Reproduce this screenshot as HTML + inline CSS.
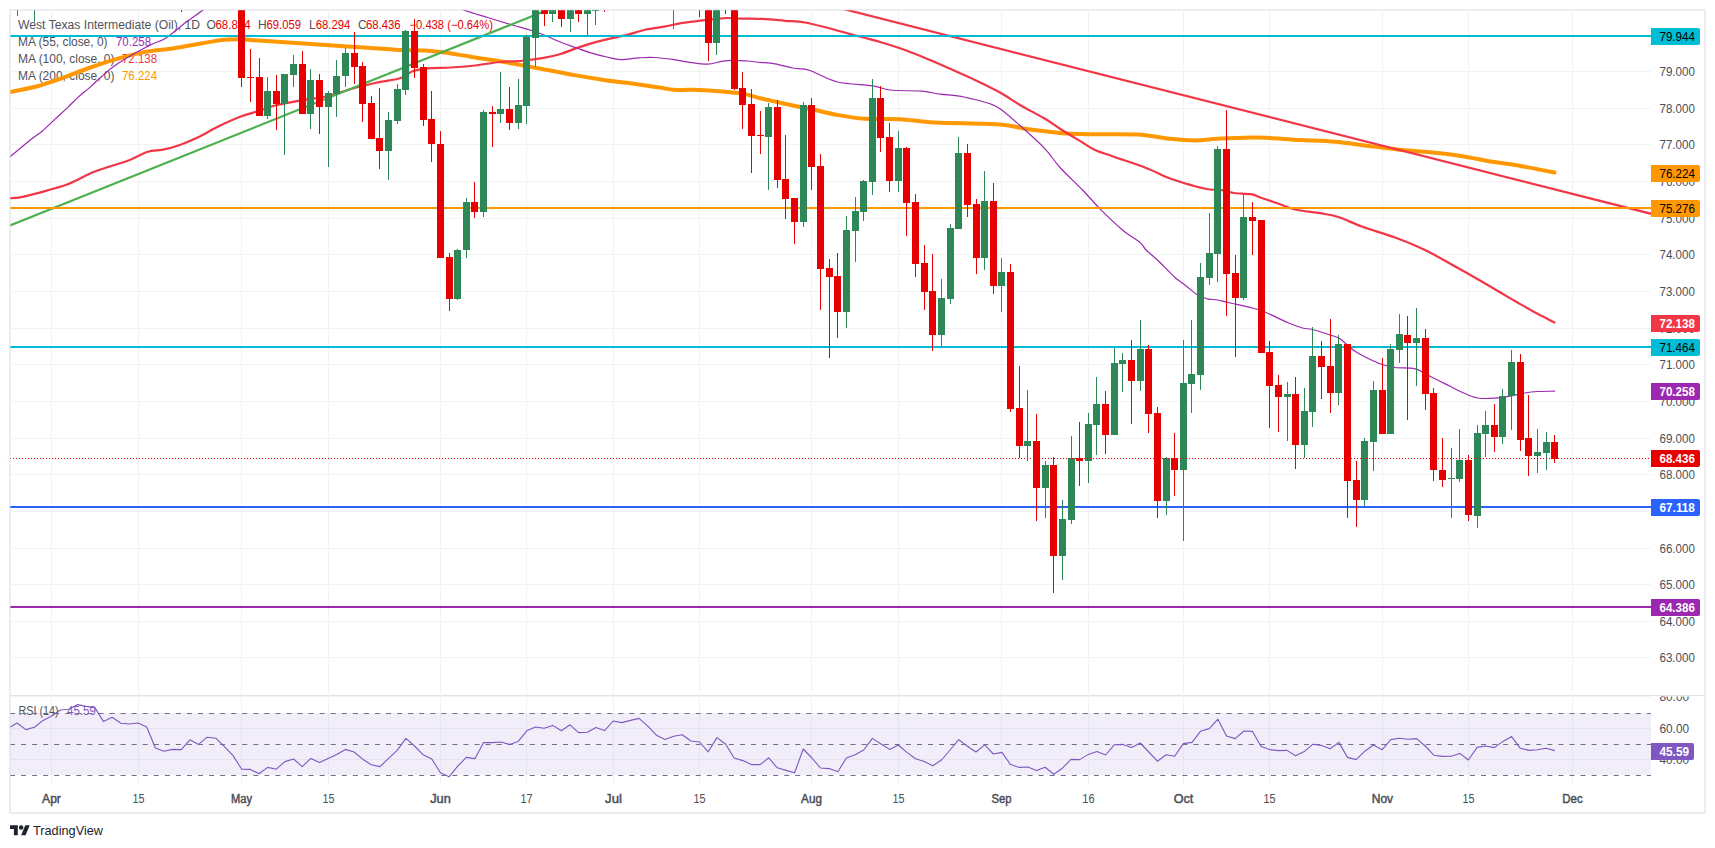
<!DOCTYPE html><html><head><meta charset="utf-8"><title>West Texas Intermediate (Oil) 1D</title>
<style>html,body{margin:0;padding:0;background:#fff}svg{display:block}text{font-family:"Liberation Sans", Arial, sans-serif;font-size:12px}</style></head><body>
<svg width="1715" height="848" viewBox="0 0 1715 848">
<defs><clipPath id="cm"><rect x="10.4" y="10.2" width="1640.6" height="685.3"/></clipPath><clipPath id="cr"><rect x="10.4" y="695.5" width="1640.6" height="89.5"/></clipPath><clipPath id="ca"><rect x="1651" y="11" width="53" height="684.5"/></clipPath><clipPath id="cb"><rect x="1651" y="696.5" width="53" height="89.5"/></clipPath></defs>
<rect width="1715" height="848" fill="#fff"/>
<line x1="10" y1="695.5" x2="1705" y2="695.5" stroke="#dfe2ea" stroke-width="1.2"/>
<rect x="10" y="10" width="1695" height="803" fill="none" stroke="#ecedf3" stroke-width="2"/>
<g stroke="#f1f3f3" stroke-width="1" shape-rendering="crispEdges">
<line x1="51.5" y1="11" x2="51.5" y2="785"/>
<line x1="138.5" y1="11" x2="138.5" y2="785"/>
<line x1="241.5" y1="11" x2="241.5" y2="785"/>
<line x1="328.5" y1="11" x2="328.5" y2="785"/>
<line x1="440.5" y1="11" x2="440.5" y2="785"/>
<line x1="526.5" y1="11" x2="526.5" y2="785"/>
<line x1="613.5" y1="11" x2="613.5" y2="785"/>
<line x1="699.5" y1="11" x2="699.5" y2="785"/>
<line x1="811.5" y1="11" x2="811.5" y2="785"/>
<line x1="898.5" y1="11" x2="898.5" y2="785"/>
<line x1="1001.5" y1="11" x2="1001.5" y2="785"/>
<line x1="1088.5" y1="11" x2="1088.5" y2="785"/>
<line x1="1183.5" y1="11" x2="1183.5" y2="785"/>
<line x1="1269.5" y1="11" x2="1269.5" y2="785"/>
<line x1="1382.5" y1="11" x2="1382.5" y2="785"/>
<line x1="1468.5" y1="11" x2="1468.5" y2="785"/>
<line x1="1572.5" y1="11" x2="1572.5" y2="785"/>
<line x1="11" y1="657.5" x2="1651" y2="657.5"/>
<line x1="11" y1="621.5" x2="1651" y2="621.5"/>
<line x1="11" y1="584.5" x2="1651" y2="584.5"/>
<line x1="11" y1="548.5" x2="1651" y2="548.5"/>
<line x1="11" y1="511.5" x2="1651" y2="511.5"/>
<line x1="11" y1="474.5" x2="1651" y2="474.5"/>
<line x1="11" y1="438.5" x2="1651" y2="438.5"/>
<line x1="11" y1="401.5" x2="1651" y2="401.5"/>
<line x1="11" y1="364.5" x2="1651" y2="364.5"/>
<line x1="11" y1="328.5" x2="1651" y2="328.5"/>
<line x1="11" y1="291.5" x2="1651" y2="291.5"/>
<line x1="11" y1="254.5" x2="1651" y2="254.5"/>
<line x1="11" y1="218.5" x2="1651" y2="218.5"/>
<line x1="11" y1="181.5" x2="1651" y2="181.5"/>
<line x1="11" y1="144.5" x2="1651" y2="144.5"/>
<line x1="11" y1="108.5" x2="1651" y2="108.5"/>
<line x1="11" y1="71.5" x2="1651" y2="71.5"/>
<line x1="11" y1="35.5" x2="1651" y2="35.5"/>
<line x1="11" y1="696.5" x2="1651" y2="696.5"/>
<line x1="11" y1="728.5" x2="1651" y2="728.5"/>
<line x1="11" y1="759.5" x2="1651" y2="759.5"/>
</g>
<rect x="10.5" y="713" width="1640.5" height="62" fill="#7e57c2" fill-opacity="0.1"/>
<g fill="#50535c">
<text x="18" y="29" textLength="182" lengthAdjust="spacingAndGlyphs">West Texas Intermediate (Oil), 1D</text>
<text x="206.5" y="29">O</text><text x="215.5" y="29" fill="#e60000" textLength="35" lengthAdjust="spacingAndGlyphs">68.874</text>
<text x="258" y="29">H</text><text x="266.5" y="29" fill="#e60000" textLength="34.5" lengthAdjust="spacingAndGlyphs">69.059</text>
<text x="309" y="29">L</text><text x="315.7" y="29" fill="#e60000" textLength="34.6" lengthAdjust="spacingAndGlyphs">68.294</text>
<text x="358" y="29">C</text><text x="366" y="29" fill="#e60000" textLength="34.6" lengthAdjust="spacingAndGlyphs">68.436</text>
<text x="409.5" y="29" fill="#e60000" textLength="83.5" lengthAdjust="spacingAndGlyphs">−0.438 (−0.64%)</text>
<text x="18" y="46" textLength="89.5" lengthAdjust="spacingAndGlyphs">MA (55, close, 0)</text><text x="116" y="46" fill="#9c27b0" textLength="35" lengthAdjust="spacingAndGlyphs">70.258</text>
<text x="18" y="63" textLength="96.5" lengthAdjust="spacingAndGlyphs">MA (100, close, 0)</text><text x="122" y="63" fill="#f23645" textLength="35" lengthAdjust="spacingAndGlyphs">72.138</text>
<text x="18" y="80" textLength="96.5" lengthAdjust="spacingAndGlyphs">MA (200, close, 0)</text><text x="122" y="80" fill="#ff9800" textLength="35" lengthAdjust="spacingAndGlyphs">76.224</text>
<text x="18.5" y="714.8" textLength="40" lengthAdjust="spacingAndGlyphs">RSI (14)</text><text x="67" y="714.8" fill="#7e57c2" textLength="29" lengthAdjust="spacingAndGlyphs">45.59</text>
</g>
<g clip-path="url(#cm)">
<path fill="none" stroke="#ff9800" stroke-width="4" stroke-linejoin="round" stroke-linecap="round" d="M10.0 92.0C14.4 91.1 29.0 88.4 37.2 86.2C45.4 84.0 52.7 81.4 61.0 78.5C69.3 75.6 80.0 71.1 89.0 68.0C98.0 64.9 108.0 61.5 117.0 58.9C126.0 56.3 136.0 53.6 145.0 51.9C154.0 50.2 164.0 49.7 173.0 48.4C182.0 47.1 193.2 44.8 201.0 43.5C208.8 42.2 216.2 40.7 222.0 40.0C227.8 39.3 232.7 39.3 237.3 39.3C241.9 39.3 242.6 39.6 250.8 40.1C259.0 40.6 276.4 41.8 288.4 42.6C300.4 43.4 314.0 44.3 326.0 45.1C338.0 45.9 351.8 46.8 363.6 47.6C375.4 48.4 390.2 49.5 400.0 50.0C409.8 50.5 417.0 50.0 425.0 50.5C433.0 51.0 442.0 52.1 450.0 53.2C458.0 54.4 467.0 56.2 475.0 57.5C483.0 58.8 492.8 60.1 500.0 61.2C507.2 62.4 513.4 63.7 520.0 64.9C526.6 66.1 532.0 67.0 541.0 68.7C550.0 70.4 565.9 73.6 576.0 75.4C586.1 77.2 595.0 78.6 604.0 79.9C613.0 81.2 623.0 82.2 632.0 83.4C641.0 84.6 653.3 86.6 660.0 87.6C666.7 88.6 667.8 89.3 674.0 89.7C680.2 90.1 692.3 89.7 699.0 89.9C705.7 90.1 710.6 90.6 716.0 91.0C721.4 91.4 728.2 92.0 732.7 92.5C737.2 93.0 739.2 92.9 744.0 93.9C748.8 94.9 755.9 97.2 762.5 98.8C769.1 100.3 778.2 102.3 785.0 103.8C791.8 105.2 800.2 107.0 805.0 108.0C809.8 109.0 809.8 108.9 815.0 110.0C820.2 111.1 829.5 113.6 837.5 115.0C845.5 116.4 855.0 118.1 865.0 118.8C875.0 119.4 888.8 118.7 900.0 119.2C911.2 119.8 919.0 121.7 935.0 122.5C951.0 123.3 985.6 123.5 1000.0 124.5C1014.4 125.5 1015.4 127.4 1025.0 128.8C1034.6 130.1 1050.0 132.1 1060.0 133.0C1070.0 133.9 1075.1 134.0 1087.5 134.2C1099.9 134.5 1124.3 133.8 1137.5 134.5C1150.7 135.2 1160.8 137.8 1170.0 138.8C1179.2 139.7 1187.4 140.5 1195.0 140.5C1202.6 140.5 1208.3 139.2 1217.5 138.8C1226.7 138.3 1244.1 137.6 1252.5 137.5C1260.9 137.4 1262.4 137.6 1270.0 138.0C1277.6 138.4 1289.6 139.4 1300.0 140.0C1310.4 140.6 1324.6 140.9 1335.0 141.8C1345.4 142.6 1355.4 144.3 1365.0 145.5C1374.6 146.7 1383.0 148.0 1395.0 149.2C1407.0 150.5 1429.2 152.1 1440.0 153.2C1450.8 154.4 1454.1 154.9 1462.5 156.2C1470.9 157.6 1484.1 160.3 1492.5 161.8C1500.9 163.2 1507.8 163.8 1515.0 165.0C1522.2 166.2 1531.2 168.1 1537.5 169.2C1543.8 170.4 1551.8 172.0 1554.5 172.5"/>
<path fill="none" stroke="#f23645" stroke-width="2.2" stroke-linejoin="round" stroke-linecap="round" d="M10.0 198.1C11.6 198.0 15.6 198.1 20.0 197.3C24.4 196.5 30.0 195.2 37.6 193.1C45.2 191.0 58.9 187.6 67.7 184.3C76.5 181.0 85.6 175.3 92.8 172.3C100.0 169.3 106.8 167.5 112.8 165.5C118.8 163.5 124.8 161.9 130.4 159.7C136.0 157.5 142.7 153.3 147.9 151.7C153.1 150.1 157.8 150.8 163.0 149.7C168.2 148.6 174.9 146.7 180.5 144.7C186.1 142.7 192.1 140.1 198.1 137.2C204.1 134.3 211.4 129.9 218.2 126.6C225.0 123.3 234.3 119.1 240.7 116.6C247.1 114.1 252.7 112.9 258.3 111.1C263.9 109.3 269.0 107.0 275.8 105.3C282.6 103.6 292.9 101.7 300.9 100.3C308.9 98.9 318.0 98.3 326.0 96.5C334.0 94.7 343.1 91.2 351.1 89.0C359.1 86.8 368.3 84.4 376.1 82.7C383.9 81.0 394.2 80.1 400.0 78.3C405.8 76.5 408.1 72.9 412.5 71.3C416.9 69.7 421.5 68.9 427.5 68.3C433.5 67.7 442.4 67.9 450.0 67.5C457.6 67.1 467.0 66.4 475.0 65.5C483.0 64.6 492.8 62.7 500.0 62.0C507.2 61.3 513.2 61.6 520.0 61.0C526.8 60.4 535.9 59.3 542.4 58.2C548.9 57.1 555.2 55.6 560.6 54.0C566.0 52.4 570.4 50.3 576.0 48.4C581.6 46.5 588.9 43.9 595.6 42.1C602.3 40.3 612.7 38.1 618.0 36.9C623.3 35.7 624.5 35.6 629.0 34.4C633.5 33.2 640.4 30.7 646.0 29.5C651.6 28.3 658.4 27.7 664.0 26.7C669.6 25.7 675.2 24.2 681.0 23.2C686.8 22.2 694.9 21.4 700.5 20.7C706.1 20.0 711.8 19.4 716.0 19.0C720.2 18.6 723.0 18.1 727.0 18.0C731.0 17.9 735.3 18.5 741.0 18.6C746.7 18.7 755.5 18.6 762.5 18.9C769.5 19.2 778.2 20.2 785.0 20.8C791.8 21.3 798.1 21.3 805.0 22.5C811.9 23.7 820.8 26.2 828.0 28.0C835.2 29.8 841.7 31.8 850.0 34.0C858.3 36.2 871.2 39.4 880.0 42.0C888.8 44.6 897.0 47.1 905.0 50.0C913.0 52.9 922.8 57.0 930.0 60.0C937.2 63.0 942.8 65.5 950.0 68.8C957.2 72.0 967.0 76.2 975.0 80.0C983.0 83.8 992.8 88.5 1000.0 92.5C1007.2 96.5 1012.8 100.8 1020.0 105.0C1027.2 109.2 1038.6 115.0 1045.0 118.8C1051.4 122.5 1054.0 125.0 1060.0 128.8C1066.0 132.6 1076.9 139.1 1082.5 142.5C1088.1 145.9 1090.2 147.8 1095.0 150.0C1099.8 152.2 1104.5 153.4 1112.5 156.2C1120.5 159.1 1136.2 164.1 1145.0 167.5C1153.8 170.9 1161.9 175.2 1167.5 177.5C1173.1 179.8 1175.6 180.3 1180.0 181.8C1184.4 183.2 1190.2 185.0 1195.0 186.2C1199.8 187.5 1205.8 188.9 1210.0 189.5C1214.2 190.1 1217.2 189.4 1221.0 190.0C1224.8 190.6 1229.0 192.3 1233.8 193.0C1238.5 193.7 1246.4 193.4 1251.0 194.2C1255.6 195.1 1257.9 196.7 1262.5 198.2C1267.1 199.8 1274.8 202.4 1280.0 204.2C1285.2 206.1 1288.6 208.1 1295.0 209.5C1301.4 210.9 1313.2 212.1 1320.0 213.2C1326.8 214.4 1330.7 214.6 1337.5 216.8C1344.3 218.9 1353.3 223.4 1362.5 226.8C1371.7 230.1 1385.0 233.8 1395.0 237.5C1405.0 241.2 1415.8 245.6 1425.0 250.0C1434.2 254.4 1443.7 260.1 1452.5 265.0C1461.3 269.9 1472.0 275.9 1480.0 280.5C1488.0 285.1 1496.5 290.2 1502.5 293.8C1508.5 297.3 1511.9 299.3 1517.5 302.5C1523.1 305.7 1531.6 310.6 1537.5 313.8C1543.4 316.9 1551.8 321.1 1554.5 322.5"/>
<path fill="none" stroke="#9c27b0" stroke-width="1.2" stroke-linejoin="round" stroke-linecap="round" d="M10.0 156.8C13.2 154.1 24.9 144.3 30.0 140.2C35.1 136.1 37.9 134.7 42.1 131.2C46.3 127.7 51.9 122.0 56.1 118.1C60.3 114.2 64.6 110.5 68.1 107.1C71.6 103.7 74.7 100.3 78.2 97.1C81.7 93.9 86.4 90.5 90.2 87.1C94.0 83.7 98.4 79.4 102.2 76.0C106.0 72.6 109.6 69.3 114.2 66.0C118.8 62.7 125.0 58.9 131.0 55.4C137.0 51.9 146.4 47.0 152.0 44.2C157.6 41.4 160.6 41.4 166.0 37.9C171.4 34.4 179.7 27.1 185.6 22.6C191.5 18.1 198.3 13.5 203.0 9.9C207.7 6.3 213.1 1.6 215.0 0.0"/>
<path fill="none" stroke="#9c27b0" stroke-width="1.2" stroke-linejoin="round" stroke-linecap="round" d="M455.0 5.0C456.4 5.8 458.6 8.0 463.8 10.0C468.9 12.0 479.7 15.1 487.5 17.5C495.3 19.9 505.7 23.0 512.5 25.0C519.3 27.0 525.4 28.6 530.0 30.0C534.6 31.4 535.9 31.7 541.0 33.7C546.1 35.7 556.4 40.6 562.0 42.8C567.6 45.0 571.5 46.1 576.0 47.7C580.5 49.3 585.1 51.1 590.0 52.6C594.9 54.1 601.9 55.9 606.8 57.0C611.7 58.1 615.6 59.5 620.8 59.6C626.0 59.7 633.6 58.1 639.0 57.8C644.4 57.5 648.7 57.2 654.3 57.5C659.9 57.8 668.6 58.9 674.0 59.6C679.4 60.3 682.6 61.4 688.0 62.1C693.4 62.8 702.1 64.3 707.5 64.2C712.9 64.1 717.5 62.0 721.5 61.4C725.5 60.8 728.7 60.5 732.7 60.4C736.7 60.3 742.3 60.7 746.7 61.0C751.1 61.3 755.5 62.0 760.0 62.4C764.5 62.8 769.8 62.9 775.0 63.8C780.2 64.6 788.5 67.2 792.5 68.0C796.5 68.8 797.2 68.3 800.0 68.8C802.8 69.2 804.0 68.4 810.0 70.5C816.0 72.6 827.5 79.6 837.5 82.0C847.5 84.4 864.1 84.5 872.5 85.8C880.9 87.0 882.0 89.1 890.0 90.0C898.0 90.9 914.5 90.6 922.5 91.2C930.5 91.9 934.4 93.5 940.0 94.2C945.6 95.0 951.9 94.9 957.5 95.8C963.1 96.6 969.8 98.2 975.0 99.5C980.2 100.8 986.0 102.3 990.0 103.8C994.0 105.2 995.2 105.3 1000.0 108.8C1004.8 112.2 1012.8 119.1 1020.0 125.5C1027.2 131.9 1038.6 142.0 1045.0 148.8C1051.4 155.5 1054.0 160.9 1060.0 167.5C1066.0 174.1 1076.1 183.4 1082.5 190.0C1088.9 196.6 1093.6 202.3 1100.0 208.8C1106.4 215.2 1116.1 224.6 1122.5 230.0C1128.9 235.4 1136.2 239.3 1140.0 242.5C1143.8 245.7 1143.0 246.8 1146.2 250.0C1149.5 253.2 1155.4 258.1 1160.0 262.5C1164.6 266.9 1171.0 273.9 1175.0 277.5C1179.0 281.1 1181.4 282.2 1185.0 285.0C1188.6 287.8 1193.9 292.8 1197.5 295.0C1201.1 297.2 1204.3 297.9 1207.5 298.8C1210.7 299.6 1214.2 299.4 1217.5 300.0C1220.8 300.6 1222.4 301.2 1228.0 302.5C1233.6 303.8 1246.6 306.5 1252.5 308.0C1258.4 309.5 1259.4 309.7 1265.0 312.0C1270.6 314.3 1281.5 319.9 1287.5 322.5C1293.5 325.1 1298.5 326.9 1302.5 328.0C1306.5 329.1 1308.1 328.4 1312.5 329.5C1316.9 330.6 1325.6 333.5 1330.0 335.0C1334.4 336.5 1336.0 336.1 1340.0 338.8C1344.0 341.4 1348.6 347.2 1355.0 351.2C1361.4 355.2 1373.6 361.1 1380.0 363.8C1386.4 366.4 1389.4 366.7 1395.0 367.5C1400.6 368.3 1409.4 367.4 1415.0 368.8C1420.6 370.1 1424.4 373.4 1430.0 376.2C1435.6 379.1 1444.8 383.6 1450.0 386.2C1455.2 388.9 1458.1 390.6 1462.5 392.5C1466.9 394.4 1472.3 397.1 1477.5 398.0C1482.7 398.9 1489.8 398.5 1495.0 398.2C1500.2 398.0 1505.2 397.1 1510.0 396.2C1514.8 395.4 1520.6 393.8 1525.0 393.0C1529.4 392.2 1532.8 391.8 1537.5 391.5C1542.2 391.2 1551.8 391.3 1554.5 391.2"/>
<line x1="10" y1="225.4" x2="549" y2="9.4" stroke="#4caf50" stroke-width="2.2"/>
<line x1="840" y1="8.16" x2="1660" y2="216.03" stroke="#f23645" stroke-width="2.2"/>
<line x1="10" y1="36" x2="1651" y2="36" stroke="#00bcd4" stroke-width="2"/>
<line x1="10" y1="208" x2="1651" y2="208" stroke="#ff9800" stroke-width="2"/>
<line x1="10" y1="347" x2="1651" y2="347" stroke="#00bcd4" stroke-width="2"/>
<line x1="10" y1="507" x2="1651" y2="507" stroke="#2962ff" stroke-width="2"/>
<line x1="10" y1="607" x2="1651" y2="607" stroke="#9c27b0" stroke-width="2"/>
<rect x="17" y="-50" width="1" height="66" fill="#2d8757"/>
<rect x="14" y="-50" width="7" height="1" fill="#2d8757"/>
<rect x="34" y="-50" width="1" height="72" fill="#2d8757"/>
<rect x="31" y="-50" width="7" height="1" fill="#2d8757"/>
<rect x="181" y="-50" width="1" height="62" fill="#e60000"/>
<rect x="178" y="-50" width="7" height="1" fill="#e60000"/>
<rect x="241" y="-50" width="1" height="137" fill="#e60000"/>
<rect x="238" y="-50" width="7" height="128" fill="#e60000"/>
<rect x="250" y="49" width="1" height="53" fill="#e60000"/>
<rect x="247" y="77" width="7" height="1" fill="#e60000"/>
<rect x="259" y="58" width="1" height="58" fill="#e60000"/>
<rect x="256" y="77" width="7" height="39" fill="#e60000"/>
<rect x="267" y="77" width="1" height="42" fill="#2d8757"/>
<rect x="264" y="91" width="7" height="25" fill="#2d8757"/>
<rect x="276" y="75" width="1" height="55" fill="#e60000"/>
<rect x="273" y="91" width="7" height="13" fill="#e60000"/>
<rect x="284" y="74" width="1" height="81" fill="#2d8757"/>
<rect x="281" y="74" width="7" height="30" fill="#2d8757"/>
<rect x="293" y="55" width="1" height="32" fill="#2d8757"/>
<rect x="290" y="64" width="7" height="11" fill="#2d8757"/>
<rect x="302" y="51" width="1" height="63" fill="#e60000"/>
<rect x="299" y="64" width="7" height="50" fill="#e60000"/>
<rect x="310" y="69" width="1" height="60" fill="#2d8757"/>
<rect x="307" y="80" width="7" height="34" fill="#2d8757"/>
<rect x="319" y="74" width="1" height="60" fill="#e60000"/>
<rect x="316" y="80" width="7" height="27" fill="#e60000"/>
<rect x="328" y="91" width="1" height="76" fill="#2d8757"/>
<rect x="325" y="93" width="7" height="14" fill="#2d8757"/>
<rect x="336" y="60" width="1" height="57" fill="#2d8757"/>
<rect x="333" y="76" width="7" height="18" fill="#2d8757"/>
<rect x="345" y="48" width="1" height="39" fill="#2d8757"/>
<rect x="342" y="53" width="7" height="23" fill="#2d8757"/>
<rect x="354" y="32" width="1" height="52" fill="#e60000"/>
<rect x="351" y="53" width="7" height="14" fill="#e60000"/>
<rect x="362" y="62" width="1" height="60" fill="#e60000"/>
<rect x="359" y="66" width="7" height="38" fill="#e60000"/>
<rect x="371" y="96" width="1" height="43" fill="#e60000"/>
<rect x="368" y="103" width="7" height="36" fill="#e60000"/>
<rect x="379" y="88" width="1" height="81" fill="#e60000"/>
<rect x="376" y="138" width="7" height="13" fill="#e60000"/>
<rect x="388" y="112" width="1" height="68" fill="#2d8757"/>
<rect x="385" y="120" width="7" height="31" fill="#2d8757"/>
<rect x="397" y="84" width="1" height="40" fill="#2d8757"/>
<rect x="394" y="89" width="7" height="32" fill="#2d8757"/>
<rect x="405" y="30" width="1" height="65" fill="#2d8757"/>
<rect x="402" y="31" width="7" height="59" fill="#2d8757"/>
<rect x="414" y="19" width="1" height="59" fill="#e60000"/>
<rect x="411" y="31" width="7" height="37" fill="#e60000"/>
<rect x="423" y="64" width="1" height="62" fill="#e60000"/>
<rect x="420" y="67" width="7" height="53" fill="#e60000"/>
<rect x="431" y="91" width="1" height="71" fill="#e60000"/>
<rect x="428" y="119" width="7" height="25" fill="#e60000"/>
<rect x="440" y="131" width="1" height="127" fill="#e60000"/>
<rect x="437" y="144" width="7" height="114" fill="#e60000"/>
<rect x="449" y="253" width="1" height="58" fill="#e60000"/>
<rect x="446" y="257" width="7" height="42" fill="#e60000"/>
<rect x="457" y="249" width="1" height="51" fill="#2d8757"/>
<rect x="454" y="250" width="7" height="49" fill="#2d8757"/>
<rect x="466" y="198" width="1" height="60" fill="#2d8757"/>
<rect x="463" y="202" width="7" height="48" fill="#2d8757"/>
<rect x="474" y="182" width="1" height="36" fill="#e60000"/>
<rect x="471" y="202" width="7" height="10" fill="#e60000"/>
<rect x="483" y="110" width="1" height="107" fill="#2d8757"/>
<rect x="480" y="112" width="7" height="100" fill="#2d8757"/>
<rect x="492" y="106" width="1" height="41" fill="#e60000"/>
<rect x="489" y="112" width="7" height="2" fill="#e60000"/>
<rect x="500" y="72" width="1" height="51" fill="#2d8757"/>
<rect x="497" y="109" width="7" height="5" fill="#2d8757"/>
<rect x="509" y="87" width="1" height="43" fill="#e60000"/>
<rect x="506" y="109" width="7" height="14" fill="#e60000"/>
<rect x="518" y="79" width="1" height="50" fill="#2d8757"/>
<rect x="515" y="105" width="7" height="18" fill="#2d8757"/>
<rect x="526" y="35" width="1" height="89" fill="#2d8757"/>
<rect x="523" y="37" width="7" height="69" fill="#2d8757"/>
<rect x="535" y="-50" width="1" height="117" fill="#2d8757"/>
<rect x="532" y="-50" width="7" height="88" fill="#2d8757"/>
<rect x="544" y="-50" width="1" height="76" fill="#e60000"/>
<rect x="541" y="-50" width="7" height="64" fill="#e60000"/>
<rect x="552" y="-50" width="1" height="72" fill="#2d8757"/>
<rect x="549" y="-50" width="7" height="64" fill="#2d8757"/>
<rect x="561" y="-50" width="1" height="77" fill="#e60000"/>
<rect x="558" y="-50" width="7" height="69" fill="#e60000"/>
<rect x="570" y="-50" width="1" height="82" fill="#2d8757"/>
<rect x="567" y="-50" width="7" height="69" fill="#2d8757"/>
<rect x="578" y="-50" width="1" height="72" fill="#e60000"/>
<rect x="575" y="-50" width="7" height="64" fill="#e60000"/>
<rect x="587" y="-50" width="1" height="86" fill="#2d8757"/>
<rect x="584" y="-50" width="7" height="64" fill="#2d8757"/>
<rect x="595" y="-50" width="1" height="75" fill="#2d8757"/>
<rect x="592" y="-50" width="7" height="61" fill="#2d8757"/>
<rect x="604" y="-50" width="1" height="62" fill="#e60000"/>
<rect x="601" y="-50" width="7" height="1" fill="#e60000"/>
<rect x="673" y="-50" width="1" height="79" fill="#2d8757"/>
<rect x="670" y="-50" width="7" height="1" fill="#2d8757"/>
<rect x="699" y="-50" width="1" height="67" fill="#e60000"/>
<rect x="696" y="-50" width="7" height="1" fill="#e60000"/>
<rect x="708" y="-50" width="1" height="111" fill="#e60000"/>
<rect x="705" y="-50" width="7" height="93" fill="#e60000"/>
<rect x="716" y="-50" width="1" height="105" fill="#2d8757"/>
<rect x="713" y="-50" width="7" height="93" fill="#2d8757"/>
<rect x="725" y="-50" width="1" height="64" fill="#e60000"/>
<rect x="722" y="-50" width="7" height="1" fill="#e60000"/>
<rect x="734" y="-50" width="1" height="140" fill="#e60000"/>
<rect x="731" y="-50" width="7" height="139" fill="#e60000"/>
<rect x="742" y="72" width="1" height="57" fill="#e60000"/>
<rect x="739" y="88" width="7" height="17" fill="#e60000"/>
<rect x="751" y="89" width="1" height="84" fill="#e60000"/>
<rect x="748" y="104" width="7" height="32" fill="#e60000"/>
<rect x="760" y="111" width="1" height="43" fill="#e60000"/>
<rect x="757" y="135" width="7" height="1" fill="#e60000"/>
<rect x="768" y="103" width="1" height="87" fill="#2d8757"/>
<rect x="765" y="107" width="7" height="30" fill="#2d8757"/>
<rect x="777" y="100" width="1" height="88" fill="#e60000"/>
<rect x="774" y="107" width="7" height="73" fill="#e60000"/>
<rect x="785" y="135" width="1" height="84" fill="#e60000"/>
<rect x="782" y="179" width="7" height="20" fill="#e60000"/>
<rect x="794" y="198" width="1" height="46" fill="#e60000"/>
<rect x="791" y="198" width="7" height="24" fill="#e60000"/>
<rect x="803" y="102" width="1" height="125" fill="#2d8757"/>
<rect x="800" y="105" width="7" height="117" fill="#2d8757"/>
<rect x="811" y="98" width="1" height="92" fill="#e60000"/>
<rect x="808" y="105" width="7" height="62" fill="#e60000"/>
<rect x="820" y="154" width="1" height="156" fill="#e60000"/>
<rect x="817" y="166" width="7" height="103" fill="#e60000"/>
<rect x="829" y="259" width="1" height="99" fill="#e60000"/>
<rect x="826" y="268" width="7" height="9" fill="#e60000"/>
<rect x="837" y="253" width="1" height="85" fill="#e60000"/>
<rect x="834" y="276" width="7" height="36" fill="#e60000"/>
<rect x="846" y="216" width="1" height="112" fill="#2d8757"/>
<rect x="843" y="230" width="7" height="82" fill="#2d8757"/>
<rect x="855" y="197" width="1" height="65" fill="#2d8757"/>
<rect x="852" y="211" width="7" height="20" fill="#2d8757"/>
<rect x="863" y="180" width="1" height="41" fill="#2d8757"/>
<rect x="860" y="181" width="7" height="31" fill="#2d8757"/>
<rect x="872" y="79" width="1" height="116" fill="#2d8757"/>
<rect x="869" y="98" width="7" height="84" fill="#2d8757"/>
<rect x="880" y="86" width="1" height="66" fill="#e60000"/>
<rect x="877" y="98" width="7" height="40" fill="#e60000"/>
<rect x="889" y="123" width="1" height="69" fill="#e60000"/>
<rect x="886" y="137" width="7" height="44" fill="#e60000"/>
<rect x="898" y="131" width="1" height="61" fill="#2d8757"/>
<rect x="895" y="148" width="7" height="33" fill="#2d8757"/>
<rect x="906" y="147" width="1" height="89" fill="#e60000"/>
<rect x="903" y="148" width="7" height="55" fill="#e60000"/>
<rect x="915" y="194" width="1" height="83" fill="#e60000"/>
<rect x="912" y="202" width="7" height="62" fill="#e60000"/>
<rect x="924" y="245" width="1" height="65" fill="#e60000"/>
<rect x="921" y="263" width="7" height="29" fill="#e60000"/>
<rect x="932" y="254" width="1" height="97" fill="#e60000"/>
<rect x="929" y="291" width="7" height="44" fill="#e60000"/>
<rect x="941" y="279" width="1" height="68" fill="#2d8757"/>
<rect x="938" y="298" width="7" height="37" fill="#2d8757"/>
<rect x="950" y="224" width="1" height="80" fill="#2d8757"/>
<rect x="947" y="228" width="7" height="71" fill="#2d8757"/>
<rect x="958" y="137" width="1" height="92" fill="#2d8757"/>
<rect x="955" y="153" width="7" height="76" fill="#2d8757"/>
<rect x="967" y="144" width="1" height="73" fill="#e60000"/>
<rect x="964" y="153" width="7" height="52" fill="#e60000"/>
<rect x="976" y="199" width="1" height="75" fill="#e60000"/>
<rect x="973" y="204" width="7" height="54" fill="#e60000"/>
<rect x="984" y="171" width="1" height="99" fill="#2d8757"/>
<rect x="981" y="201" width="7" height="57" fill="#2d8757"/>
<rect x="993" y="183" width="1" height="111" fill="#e60000"/>
<rect x="990" y="201" width="7" height="85" fill="#e60000"/>
<rect x="1001" y="258" width="1" height="54" fill="#2d8757"/>
<rect x="998" y="272" width="7" height="14" fill="#2d8757"/>
<rect x="1010" y="264" width="1" height="148" fill="#e60000"/>
<rect x="1007" y="272" width="7" height="137" fill="#e60000"/>
<rect x="1019" y="366" width="1" height="92" fill="#e60000"/>
<rect x="1016" y="408" width="7" height="38" fill="#e60000"/>
<rect x="1027" y="390" width="1" height="71" fill="#2d8757"/>
<rect x="1024" y="441" width="7" height="5" fill="#2d8757"/>
<rect x="1036" y="414" width="1" height="107" fill="#e60000"/>
<rect x="1033" y="441" width="7" height="47" fill="#e60000"/>
<rect x="1045" y="461" width="1" height="57" fill="#2d8757"/>
<rect x="1042" y="465" width="7" height="23" fill="#2d8757"/>
<rect x="1053" y="457" width="1" height="136" fill="#e60000"/>
<rect x="1050" y="465" width="7" height="91" fill="#e60000"/>
<rect x="1062" y="500" width="1" height="80" fill="#2d8757"/>
<rect x="1059" y="519" width="7" height="37" fill="#2d8757"/>
<rect x="1071" y="436" width="1" height="88" fill="#2d8757"/>
<rect x="1068" y="458" width="7" height="62" fill="#2d8757"/>
<rect x="1079" y="422" width="1" height="64" fill="#e60000"/>
<rect x="1076" y="458" width="7" height="3" fill="#e60000"/>
<rect x="1088" y="413" width="1" height="70" fill="#2d8757"/>
<rect x="1085" y="424" width="7" height="37" fill="#2d8757"/>
<rect x="1096" y="377" width="1" height="78" fill="#2d8757"/>
<rect x="1093" y="404" width="7" height="21" fill="#2d8757"/>
<rect x="1105" y="391" width="1" height="63" fill="#e60000"/>
<rect x="1102" y="404" width="7" height="31" fill="#e60000"/>
<rect x="1114" y="348" width="1" height="87" fill="#2d8757"/>
<rect x="1111" y="363" width="7" height="72" fill="#2d8757"/>
<rect x="1122" y="353" width="1" height="39" fill="#2d8757"/>
<rect x="1119" y="360" width="7" height="4" fill="#2d8757"/>
<rect x="1131" y="340" width="1" height="84" fill="#e60000"/>
<rect x="1128" y="360" width="7" height="21" fill="#e60000"/>
<rect x="1140" y="320" width="1" height="71" fill="#2d8757"/>
<rect x="1137" y="349" width="7" height="32" fill="#2d8757"/>
<rect x="1148" y="345" width="1" height="88" fill="#e60000"/>
<rect x="1145" y="349" width="7" height="65" fill="#e60000"/>
<rect x="1157" y="407" width="1" height="111" fill="#e60000"/>
<rect x="1154" y="413" width="7" height="88" fill="#e60000"/>
<rect x="1166" y="457" width="1" height="58" fill="#2d8757"/>
<rect x="1163" y="458" width="7" height="43" fill="#2d8757"/>
<rect x="1174" y="433" width="1" height="63" fill="#e60000"/>
<rect x="1171" y="458" width="7" height="12" fill="#e60000"/>
<rect x="1183" y="340" width="1" height="201" fill="#2d8757"/>
<rect x="1180" y="383" width="7" height="87" fill="#2d8757"/>
<rect x="1191" y="320" width="1" height="93" fill="#2d8757"/>
<rect x="1188" y="374" width="7" height="10" fill="#2d8757"/>
<rect x="1200" y="263" width="1" height="127" fill="#2d8757"/>
<rect x="1197" y="277" width="7" height="98" fill="#2d8757"/>
<rect x="1209" y="213" width="1" height="72" fill="#2d8757"/>
<rect x="1206" y="253" width="7" height="25" fill="#2d8757"/>
<rect x="1217" y="146" width="1" height="136" fill="#2d8757"/>
<rect x="1214" y="149" width="7" height="105" fill="#2d8757"/>
<rect x="1226" y="110" width="1" height="206" fill="#e60000"/>
<rect x="1223" y="149" width="7" height="125" fill="#e60000"/>
<rect x="1235" y="255" width="1" height="102" fill="#e60000"/>
<rect x="1232" y="273" width="7" height="25" fill="#e60000"/>
<rect x="1243" y="195" width="1" height="105" fill="#2d8757"/>
<rect x="1240" y="217" width="7" height="81" fill="#2d8757"/>
<rect x="1252" y="202" width="1" height="53" fill="#e60000"/>
<rect x="1249" y="217" width="7" height="4" fill="#e60000"/>
<rect x="1261" y="220" width="1" height="133" fill="#e60000"/>
<rect x="1258" y="220" width="7" height="133" fill="#e60000"/>
<rect x="1269" y="341" width="1" height="87" fill="#e60000"/>
<rect x="1266" y="352" width="7" height="34" fill="#e60000"/>
<rect x="1278" y="375" width="1" height="57" fill="#e60000"/>
<rect x="1275" y="385" width="7" height="12" fill="#e60000"/>
<rect x="1287" y="382" width="1" height="59" fill="#2d8757"/>
<rect x="1284" y="394" width="7" height="3" fill="#2d8757"/>
<rect x="1295" y="377" width="1" height="92" fill="#e60000"/>
<rect x="1292" y="394" width="7" height="51" fill="#e60000"/>
<rect x="1304" y="388" width="1" height="70" fill="#2d8757"/>
<rect x="1301" y="411" width="7" height="34" fill="#2d8757"/>
<rect x="1312" y="327" width="1" height="100" fill="#2d8757"/>
<rect x="1309" y="356" width="7" height="56" fill="#2d8757"/>
<rect x="1321" y="341" width="1" height="58" fill="#e60000"/>
<rect x="1318" y="356" width="7" height="11" fill="#e60000"/>
<rect x="1330" y="319" width="1" height="94" fill="#e60000"/>
<rect x="1327" y="366" width="7" height="27" fill="#e60000"/>
<rect x="1338" y="335" width="1" height="70" fill="#2d8757"/>
<rect x="1335" y="344" width="7" height="49" fill="#2d8757"/>
<rect x="1347" y="344" width="1" height="174" fill="#e60000"/>
<rect x="1344" y="344" width="7" height="137" fill="#e60000"/>
<rect x="1356" y="461" width="1" height="66" fill="#e60000"/>
<rect x="1353" y="480" width="7" height="20" fill="#e60000"/>
<rect x="1364" y="438" width="1" height="68" fill="#2d8757"/>
<rect x="1361" y="441" width="7" height="59" fill="#2d8757"/>
<rect x="1373" y="381" width="1" height="90" fill="#2d8757"/>
<rect x="1370" y="390" width="7" height="52" fill="#2d8757"/>
<rect x="1382" y="358" width="1" height="76" fill="#e60000"/>
<rect x="1379" y="390" width="7" height="44" fill="#e60000"/>
<rect x="1390" y="344" width="1" height="90" fill="#2d8757"/>
<rect x="1387" y="349" width="7" height="85" fill="#2d8757"/>
<rect x="1399" y="314" width="1" height="49" fill="#2d8757"/>
<rect x="1396" y="334" width="7" height="16" fill="#2d8757"/>
<rect x="1407" y="316" width="1" height="104" fill="#e60000"/>
<rect x="1404" y="335" width="7" height="8" fill="#e60000"/>
<rect x="1416" y="308" width="1" height="78" fill="#2d8757"/>
<rect x="1413" y="338" width="7" height="5" fill="#2d8757"/>
<rect x="1425" y="329" width="1" height="81" fill="#e60000"/>
<rect x="1422" y="338" width="7" height="56" fill="#e60000"/>
<rect x="1433" y="388" width="1" height="93" fill="#e60000"/>
<rect x="1430" y="393" width="7" height="77" fill="#e60000"/>
<rect x="1442" y="438" width="1" height="49" fill="#e60000"/>
<rect x="1439" y="470" width="7" height="10" fill="#e60000"/>
<rect x="1451" y="448" width="1" height="70" fill="#2d8757"/>
<rect x="1448" y="478" width="7" height="1" fill="#2d8757"/>
<rect x="1459" y="429" width="1" height="53" fill="#2d8757"/>
<rect x="1456" y="460" width="7" height="19" fill="#2d8757"/>
<rect x="1468" y="455" width="1" height="66" fill="#e60000"/>
<rect x="1465" y="460" width="7" height="55" fill="#e60000"/>
<rect x="1477" y="425" width="1" height="103" fill="#2d8757"/>
<rect x="1474" y="433" width="7" height="83" fill="#2d8757"/>
<rect x="1485" y="411" width="1" height="46" fill="#2d8757"/>
<rect x="1482" y="425" width="7" height="9" fill="#2d8757"/>
<rect x="1494" y="404" width="1" height="48" fill="#e60000"/>
<rect x="1491" y="425" width="7" height="12" fill="#e60000"/>
<rect x="1502" y="389" width="1" height="55" fill="#2d8757"/>
<rect x="1499" y="396" width="7" height="41" fill="#2d8757"/>
<rect x="1511" y="350" width="1" height="80" fill="#2d8757"/>
<rect x="1508" y="362" width="7" height="34" fill="#2d8757"/>
<rect x="1520" y="354" width="1" height="97" fill="#e60000"/>
<rect x="1517" y="362" width="7" height="78" fill="#e60000"/>
<rect x="1528" y="395" width="1" height="81" fill="#e60000"/>
<rect x="1525" y="438" width="7" height="18" fill="#e60000"/>
<rect x="1537" y="429" width="1" height="44" fill="#2d8757"/>
<rect x="1534" y="452" width="7" height="4" fill="#2d8757"/>
<rect x="1546" y="432" width="1" height="38" fill="#2d8757"/>
<rect x="1543" y="442" width="7" height="11" fill="#2d8757"/>
<rect x="1554" y="435" width="1" height="28" fill="#e60000"/>
<rect x="1551" y="442" width="7" height="17" fill="#e60000"/>
<line x1="10" y1="458.5" x2="1651" y2="458.5" stroke="#e60000" stroke-width="1" stroke-dasharray="1.1 1.9"/>
</g>
<g clip-path="url(#cr)">
<line x1="10" y1="713.5" x2="1651" y2="713.5" stroke="#6e7182" stroke-width="1.15" stroke-dasharray="5 6.06"/>
<line x1="10" y1="744.5" x2="1651" y2="744.5" stroke="#6e7182" stroke-width="1.15" stroke-dasharray="5 6.06"/>
<line x1="10" y1="775.5" x2="1651" y2="775.5" stroke="#6e7182" stroke-width="1.15" stroke-dasharray="5 6.06"/>
<polyline fill="none" stroke="#7e57c2" stroke-width="1.1" stroke-linejoin="round" points="8.5,728.0 17.1,723.0 25.8,729.6 34.4,727.2 43.1,720.4 51.7,716.0 60.3,710.0 69.0,709.2 77.6,704.6 86.3,706.4 94.9,707.6 103.5,721.6 112.2,717.2 120.8,723.2 129.4,724.0 138.1,723.0 146.7,727.0 155.4,748.0 164.0,751.2 172.6,749.4 181.3,749.6 189.9,739.8 198.6,744.4 207.2,737.2 215.8,738.2 224.5,746.6 233.1,755.6 241.7,769.2 250.4,769.4 259.0,773.8 267.7,767.4 276.3,769.2 284.9,761.6 293.6,759.0 302.2,766.6 310.9,758.4 319.5,762.6 328.1,758.6 336.8,754.4 345.4,749.4 354.0,752.0 362.7,759.2 371.3,764.8 380.0,766.6 388.6,758.4 397.2,750.4 405.9,738.4 414.5,746.0 423.2,754.8 431.8,759.0 440.4,772.8 449.1,776.8 457.7,766.2 466.3,757.4 475.0,758.6 483.6,742.6 492.3,742.6 500.9,742.0 509.5,744.4 518.2,741.4 526.8,730.8 535.5,727.0 544.1,728.2 552.7,725.4 561.4,730.8 570.0,724.8 578.6,732.6 587.3,732.2 595.9,727.4 604.6,730.6 613.2,721.0 621.8,722.6 630.5,720.4 639.1,718.4 647.8,726.2 656.4,735.2 665.0,739.4 673.7,736.2 682.3,734.8 690.9,741.0 699.6,742.0 708.2,751.8 716.9,737.6 725.5,744.0 734.1,758.0 742.8,760.6 751.4,764.6 760.1,764.6 768.7,757.8 777.3,767.8 786.0,770.4 794.6,772.8 803.2,749.0 811.9,758.0 820.5,768.0 829.2,768.6 837.8,771.8 846.4,758.0 855.1,754.8 863.7,750.0 872.4,738.4 881.0,744.0 889.6,749.4 898.3,745.0 906.9,752.4 915.6,758.8 924.2,761.6 932.8,765.8 941.5,760.0 950.1,750.0 958.7,739.6 967.4,746.2 976.0,752.0 984.7,744.8 993.3,754.0 1001.9,752.4 1010.6,764.6 1019.2,767.4 1027.9,767.0 1036.5,770.6 1045.1,767.2 1053.8,774.2 1062.4,768.2 1071.0,759.4 1079.7,759.6 1088.3,754.4 1097.0,751.4 1105.6,755.0 1114.2,744.8 1122.9,744.4 1131.5,747.6 1140.2,743.0 1148.8,752.0 1157.4,761.2 1166.1,754.8 1174.7,756.2 1183.3,743.6 1192.0,742.4 1200.6,731.2 1209.3,728.6 1217.9,719.2 1226.5,736.0 1235.2,738.6 1243.8,731.0 1252.5,731.4 1261.1,746.4 1269.7,749.6 1278.4,750.6 1287.0,750.4 1295.6,755.8 1304.3,751.6 1312.9,744.2 1321.6,745.4 1330.2,748.8 1338.8,742.4 1347.5,757.4 1356.1,759.6 1364.8,751.2 1373.4,745.0 1382.0,749.8 1390.7,739.6 1399.3,738.2 1407.9,739.2 1416.6,738.6 1425.2,746.0 1433.9,755.2 1442.5,756.4 1451.1,756.2 1459.8,753.4 1468.4,760.0 1477.1,747.4 1485.7,746.0 1494.3,747.6 1503.0,741.4 1511.6,736.6 1520.2,748.2 1528.9,750.4 1537.5,749.8 1546.2,748.2 1554.8,750.6"/>
</g>
<g clip-path="url(#ca)" fill="#4a4d57">
<text x="1659.5" y="661.9" textLength="35.4" lengthAdjust="spacingAndGlyphs">63.000</text>
<text x="1659.5" y="625.9" textLength="35.4" lengthAdjust="spacingAndGlyphs">64.000</text>
<text x="1659.5" y="588.9" textLength="35.4" lengthAdjust="spacingAndGlyphs">65.000</text>
<text x="1659.5" y="552.9" textLength="35.4" lengthAdjust="spacingAndGlyphs">66.000</text>
<text x="1659.5" y="515.9" textLength="35.4" lengthAdjust="spacingAndGlyphs">67.000</text>
<text x="1659.5" y="478.9" textLength="35.4" lengthAdjust="spacingAndGlyphs">68.000</text>
<text x="1659.5" y="442.9" textLength="35.4" lengthAdjust="spacingAndGlyphs">69.000</text>
<text x="1659.5" y="405.9" textLength="35.4" lengthAdjust="spacingAndGlyphs">70.000</text>
<text x="1659.5" y="368.9" textLength="35.4" lengthAdjust="spacingAndGlyphs">71.000</text>
<text x="1659.5" y="332.9" textLength="35.4" lengthAdjust="spacingAndGlyphs">72.000</text>
<text x="1659.5" y="295.9" textLength="35.4" lengthAdjust="spacingAndGlyphs">73.000</text>
<text x="1659.5" y="258.9" textLength="35.4" lengthAdjust="spacingAndGlyphs">74.000</text>
<text x="1659.5" y="222.9" textLength="35.4" lengthAdjust="spacingAndGlyphs">75.000</text>
<text x="1659.5" y="185.9" textLength="35.4" lengthAdjust="spacingAndGlyphs">76.000</text>
<text x="1659.5" y="148.9" textLength="35.4" lengthAdjust="spacingAndGlyphs">77.000</text>
<text x="1659.5" y="112.9" textLength="35.4" lengthAdjust="spacingAndGlyphs">78.000</text>
<text x="1659.5" y="75.9" textLength="35.4" lengthAdjust="spacingAndGlyphs">79.000</text>
<text x="1659.5" y="39.9" textLength="35.4" lengthAdjust="spacingAndGlyphs">80.000</text>
</g>
<g clip-path="url(#cb)" fill="#4a4d57">
<text x="1659.5" y="701.4" textLength="29.5" lengthAdjust="spacingAndGlyphs">80.00</text>
<text x="1659.5" y="732.9" textLength="29.5" lengthAdjust="spacingAndGlyphs">60.00</text>
<text x="1659.5" y="763.9" textLength="29.5" lengthAdjust="spacingAndGlyphs">40.00</text>
</g>
<path d="M1651 28h47q2 0 2 2v13q0 2 -2 2h-47z" fill="#00bcd4"/>
<text x="1659.5" y="40.9" fill="#000" textLength="35.4" lengthAdjust="spacingAndGlyphs">79.944</text>
<path d="M1651 165h47q2 0 2 2v13q0 2 -2 2h-47z" fill="#ff9800"/>
<text x="1659.5" y="177.9" fill="#000" textLength="35.4" lengthAdjust="spacingAndGlyphs">76.224</text>
<path d="M1651 200h47q2 0 2 2v13q0 2 -2 2h-47z" fill="#ff9800"/>
<text x="1659.5" y="212.9" fill="#000" textLength="35.4" lengthAdjust="spacingAndGlyphs">75.276</text>
<path d="M1651 315h47q2 0 2 2v13q0 2 -2 2h-47z" fill="#f23645"/>
<text x="1659.5" y="327.9" fill="#fff" font-weight="bold" textLength="35.4" lengthAdjust="spacingAndGlyphs">72.138</text>
<path d="M1651 339h47q2 0 2 2v13q0 2 -2 2h-47z" fill="#00bcd4"/>
<text x="1659.5" y="351.9" fill="#000" textLength="35.4" lengthAdjust="spacingAndGlyphs">71.464</text>
<path d="M1651 383h47q2 0 2 2v13q0 2 -2 2h-47z" fill="#9c27b0"/>
<text x="1659.5" y="395.9" fill="#fff" font-weight="bold" textLength="35.4" lengthAdjust="spacingAndGlyphs">70.258</text>
<path d="M1651 450h47q2 0 2 2v13q0 2 -2 2h-47z" fill="#e60000"/>
<text x="1659.5" y="462.9" fill="#fff" font-weight="bold" textLength="35.4" lengthAdjust="spacingAndGlyphs">68.436</text>
<path d="M1651 499h47q2 0 2 2v13q0 2 -2 2h-47z" fill="#2962ff"/>
<text x="1659.5" y="511.9" fill="#fff" font-weight="bold" textLength="35.4" lengthAdjust="spacingAndGlyphs">67.118</text>
<path d="M1651 599h47q2 0 2 2v13q0 2 -2 2h-47z" fill="#9c27b0"/>
<text x="1659.5" y="611.9" fill="#fff" font-weight="bold" textLength="35.4" lengthAdjust="spacingAndGlyphs">64.386</text>
<path d="M1651 743h41q2 0 2 2v13q0 2 -2 2h-41z" fill="#7e57c2"/>
<text x="1659.5" y="755.9" fill="#fff" font-weight="bold" textLength="29.5" lengthAdjust="spacingAndGlyphs">45.59</text>
<g fill="#4a4d57">
<text x="42.1" y="802.8" stroke="#4a4d57" stroke-width="0.45" textLength="18.8" lengthAdjust="spacingAndGlyphs">Apr</text>
<text x="132.5" y="802.8" textLength="12" lengthAdjust="spacingAndGlyphs">15</text>
<text x="231.0" y="802.8" stroke="#4a4d57" stroke-width="0.45" textLength="21" lengthAdjust="spacingAndGlyphs">May</text>
<text x="322.5" y="802.8" textLength="12" lengthAdjust="spacingAndGlyphs">15</text>
<text x="430.2" y="802.8" stroke="#4a4d57" stroke-width="0.45" textLength="20.6" lengthAdjust="spacingAndGlyphs">Jun</text>
<text x="520.5" y="802.8" textLength="12" lengthAdjust="spacingAndGlyphs">17</text>
<text x="605.1" y="802.8" stroke="#4a4d57" stroke-width="0.45" textLength="16.8" lengthAdjust="spacingAndGlyphs">Jul</text>
<text x="693.5" y="802.8" textLength="12" lengthAdjust="spacingAndGlyphs">15</text>
<text x="801.1" y="802.8" stroke="#4a4d57" stroke-width="0.45" textLength="20.8" lengthAdjust="spacingAndGlyphs">Aug</text>
<text x="892.5" y="802.8" textLength="12" lengthAdjust="spacingAndGlyphs">15</text>
<text x="991.5" y="802.8" stroke="#4a4d57" stroke-width="0.45" textLength="20" lengthAdjust="spacingAndGlyphs">Sep</text>
<text x="1082.3" y="802.8" textLength="12.3" lengthAdjust="spacingAndGlyphs">16</text>
<text x="1173.8" y="802.8" stroke="#4a4d57" stroke-width="0.45" textLength="19.5" lengthAdjust="spacingAndGlyphs">Oct</text>
<text x="1263.5" y="802.8" textLength="12" lengthAdjust="spacingAndGlyphs">15</text>
<text x="1371.8" y="802.8" stroke="#4a4d57" stroke-width="0.45" textLength="21.3" lengthAdjust="spacingAndGlyphs">Nov</text>
<text x="1462.5" y="802.8" textLength="12" lengthAdjust="spacingAndGlyphs">15</text>
<text x="1562.3" y="802.8" stroke="#4a4d57" stroke-width="0.45" textLength="20.4" lengthAdjust="spacingAndGlyphs">Dec</text>
</g>
<g fill="#1e222d"><g transform="translate(10,823) scale(0.556)"><path d="M14 22H7V11H0V4h14v18zM28 22h-8l7.5-18h8L28 22z"/><circle cx="20" cy="8" r="4"/></g><text x="33" y="835" style="font-size:13.5px" textLength="70" lengthAdjust="spacingAndGlyphs">TradingView</text></g>
</svg></body></html>
